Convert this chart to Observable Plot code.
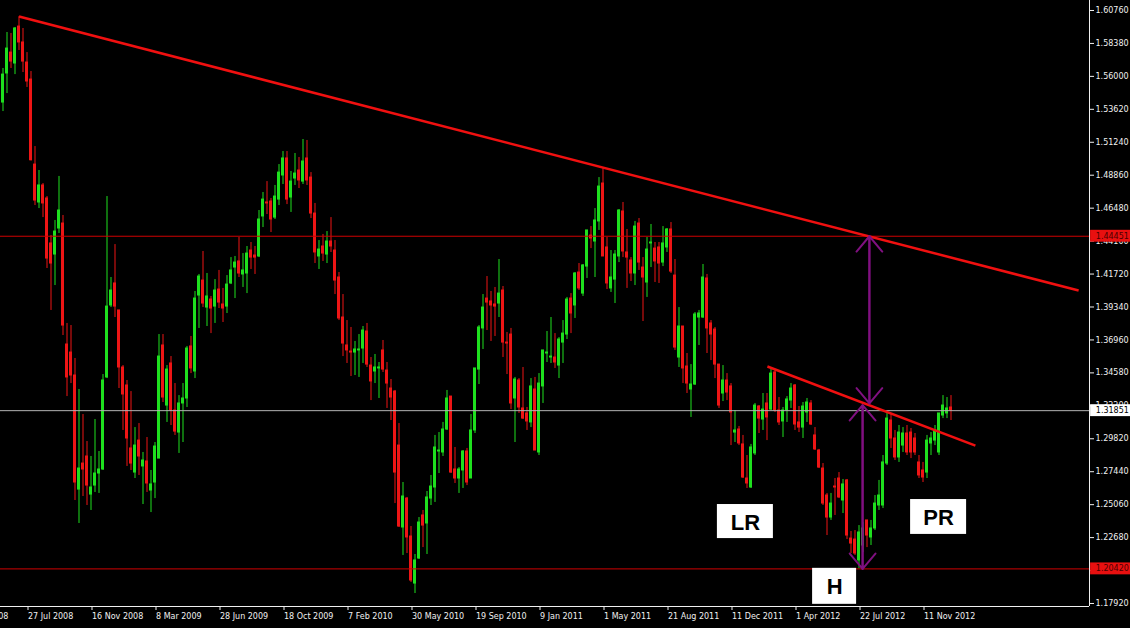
<!DOCTYPE html>
<html><head><meta charset="utf-8">
<script src="https://cdn.jsdelivr.net/npm/d3@7"></script>
<script src="https://cdn.jsdelivr.net/npm/@observablehq/plot@0.6"></script>
<style>html,body{margin:0;padding:0;background:#000;overflow:hidden}</style>
</head><body><div id="chart"></div>
<script>
// Weekly candles (bar index 0 .. 237)
const opens = [
1.5411,1.5621,1.5772,1.5693,1.5960,1.5845,1.5700,1.5577,1.4963,1.4689,
1.4812,1.4718,1.4393,1.4313,1.4501,1.4537,1.3663,1.3605,1.3439,1.2615,
1.2803,1.2854,1.2579,1.2644,1.2731,1.2760,1.3425,1.3945,1.4104,1.3909,
1.3497,1.3367,1.2912,1.2738,1.2969,1.2782,1.2818,1.2608,1.2666,1.2839,
1.3656,1.3222,1.3526,1.3186,1.3027,1.3237,1.3273,1.3649,1.3468,1.4017,
1.4125,1.3930,1.3988,1.3937,1.4060,1.3952,1.3937,1.4104,1.4219,1.4263,
1.4169,1.4176,1.4342,1.4306,1.4299,1.4588,1.4689,1.4696,1.4580,1.4710,
1.4884,1.5007,1.4725,1.4862,1.4920,1.4840,1.5007,1.4869,1.4609,1.4299,
1.4371,1.4313,1.4407,1.4342,1.4147,1.3858,1.3656,1.3612,1.3605,1.3620,
1.3634,1.3757,1.3511,1.3468,1.3490,1.3620,1.3475,1.3345,1.3323,1.2933,
1.2341,1.2550,1.2276,1.1936,1.2117,1.2428,1.2370,1.2550,1.2630,1.2890,
1.2883,1.3049,1.3287,1.2760,1.2695,1.2753,1.2890,1.2695,1.3042,1.3482,
1.3779,1.3995,1.3974,1.3952,1.3959,1.4053,1.3677,1.3735,1.3273,1.3403,
1.3201,1.3165,1.3100,1.3338,1.2883,1.3360,1.3598,1.3569,1.3569,1.3511,
1.3677,1.3735,1.3995,1.3945,1.4183,1.4031,1.4226,1.4450,1.4407,1.4552,
1.4826,1.4364,1.4068,1.4132,1.4299,1.4624,1.4328,1.4270,1.4176,1.4537,
1.4219,1.4111,1.4393,1.4356,1.4364,1.4255,1.4364,1.4494,1.4161,1.3569,
1.3793,1.3504,1.3338,1.3374,1.3858,1.3858,1.4140,1.3815,1.3771,1.3518,
1.3309,1.3403,1.3360,1.3027,1.3049,1.2941,1.2695,1.2630,1.2876,1.3215,
1.3121,1.3237,1.3193,1.3461,1.3186,1.3107,1.3186,1.3258,1.3367,1.3100,
1.3063,1.3172,1.3237,1.3006,1.2897,1.2767,1.2572,1.2413,1.2637,1.2695,
1.2536,1.2681,1.2261,1.2254,1.2103,1.2211,1.2392,1.2269,1.2334,1.2500,
1.2500,1.2803,1.3114,1.2984,1.2847,1.2933,1.3020,1.3027,1.2984,1.2811,
1.2753,1.2738,1.2948,1.2969,1.2883,1.3150,1.3165,1.3208];
const highs = [
1.5657,1.5917,1.5910,1.5953,1.6032,1.5946,1.5772,1.5635,1.5093,1.4920,
1.4826,1.4732,1.4450,1.4559,1.4877,1.4595,1.3815,1.3800,1.3562,1.3338,
1.3157,1.2962,1.2854,1.3121,1.2890,1.3446,1.4732,1.4147,1.4385,1.3909,
1.3511,1.3403,1.3323,1.3063,1.3092,1.2883,1.2991,1.2753,1.2955,1.3735,
1.3735,1.3511,1.3576,1.3381,1.3294,1.3381,1.3649,1.3721,1.4046,1.4169,
1.4335,1.4176,1.4010,1.4132,1.4198,1.4068,1.4161,1.4291,1.4299,1.4436,
1.4320,1.4371,1.4400,1.4371,1.4631,1.4761,1.4840,1.4718,1.4812,1.4963,
1.5057,1.5057,1.4913,1.5043,1.5014,1.5144,1.5137,1.4905,1.4682,1.4414,
1.4458,1.4479,1.4580,1.4414,1.4183,1.4024,1.3836,1.3786,1.3685,1.3735,
1.3793,1.3815,1.3569,1.3591,1.3533,1.3692,1.3533,1.3410,1.3331,1.3092,
1.2666,1.2558,1.2348,1.2146,1.2413,1.2464,1.2601,1.2717,1.3006,1.3027,
1.3100,1.3331,1.3287,1.2919,1.2774,1.2897,1.2912,1.3157,1.3490,1.3800,
1.4024,1.4154,1.4046,1.4075,1.4277,1.4082,1.3750,1.3779,1.3425,1.3417,
1.3497,1.3208,1.3417,1.3425,1.3453,1.3620,1.3757,1.3858,1.3742,1.3713,
1.3836,1.4003,1.4031,1.4183,1.4248,1.4241,1.4487,1.4515,1.4645,1.4869,
1.4934,1.4436,1.4342,1.4342,1.4638,1.4689,1.4494,1.4291,1.4552,1.4573,
1.4291,1.4436,1.4530,1.4400,1.4400,1.4515,1.4501,1.4544,1.4277,1.3930,
1.3793,1.3598,1.3518,1.3894,1.3909,1.4241,1.4169,1.3836,1.3786,1.3518,
1.3511,1.3453,1.3381,1.3186,1.3071,1.3006,1.2861,1.2941,1.3237,1.3222,
1.3309,1.3309,1.3490,1.3482,1.3280,1.3208,1.3287,1.3381,1.3374,1.3215,
1.3244,1.3273,1.3258,1.3063,1.2905,1.2803,1.2587,1.2587,1.2695,1.2738,
1.2688,1.2688,1.2312,1.2319,1.2355,1.2377,1.2392,1.2392,1.2572,1.2681,
1.2861,1.3172,1.3165,1.3042,1.3078,1.3063,1.3078,1.3056,1.3020,1.2861,
1.2811,1.3006,1.3027,1.3078,1.3165,1.3294,1.3280,1.3294];
const lows = [
1.5346,1.5476,1.5657,1.5613,1.5787,1.5628,1.5520,1.4989,1.4667,1.4645,
1.4580,1.4212,1.3909,1.4089,1.4465,1.3728,1.3287,1.3381,1.2536,1.2370,
1.2565,1.2500,1.2464,1.2594,1.2587,1.2753,1.3417,1.3930,1.3858,1.3345,
1.3042,1.2782,1.2753,1.2695,1.2717,1.2507,1.2594,1.2449,1.2550,1.2839,
1.3244,1.3100,1.3078,1.3006,1.2876,1.2955,1.3208,1.3453,1.3417,1.3779,
1.3930,1.3793,1.3742,1.3815,1.3923,1.3822,1.3887,1.4096,1.3995,1.4147,
1.4075,1.4031,1.4205,1.4169,1.4291,1.4508,1.4602,1.4472,1.4566,1.4667,
1.4819,1.4674,1.4617,1.4812,1.4790,1.4819,1.4812,1.4573,1.4248,1.4205,
1.4263,1.4248,1.4328,1.4024,1.3836,1.3576,1.3526,1.3432,1.3439,1.3425,
1.3526,1.3497,1.3258,1.3381,1.3273,1.3461,1.3201,1.3114,1.2514,1.2341,
1.2139,1.2153,1.1944,1.1864,1.2110,1.2196,1.2146,1.2500,1.2522,1.2731,
1.2854,1.3042,1.2731,1.2659,1.2587,1.2623,1.2644,1.2695,1.3020,1.3374,
1.3627,1.3764,1.3685,1.3721,1.3858,1.3569,1.3446,1.3193,1.2955,1.3165,
1.3121,1.3042,1.3063,1.2897,1.2861,1.3237,1.3533,1.3526,1.3490,1.3417,
1.3526,1.3699,1.3742,1.3851,1.4053,1.4010,1.4140,1.4356,1.4147,1.4487,
1.4299,1.4060,1.4039,1.3959,1.4255,1.4291,1.4068,1.4118,1.4089,1.4198,
1.3829,1.4003,1.4219,1.4111,1.4104,1.4226,1.4328,1.4176,1.3620,1.3497,
1.3381,1.3309,1.3136,1.3367,1.3656,1.3851,1.3598,1.3547,1.3417,1.3201,
1.3251,1.3258,1.2933,1.2955,1.2933,1.2695,1.2623,1.2623,1.2861,1.3020,
1.3042,1.2969,1.3186,1.3172,1.3078,1.2991,1.3100,1.3201,1.3042,1.3027,
1.2984,1.3100,1.3078,1.2897,1.2767,1.2500,1.2283,1.2392,1.2428,1.2550,
1.2442,1.2254,1.2153,1.2139,1.2042,1.2160,1.2196,1.2211,1.2319,1.2464,
1.2478,1.2789,1.2912,1.2825,1.2811,1.2883,1.2861,1.2839,1.2861,1.2695,
1.2666,1.2695,1.2861,1.2933,1.2861,1.3128,1.3128,1.3114];
const closes = [
1.5613,1.5801,1.5707,1.5946,1.5845,1.5707,1.5563,1.4994,1.4703,1.4812,
1.4682,1.4284,1.4248,1.4479,1.4631,1.3800,1.3425,1.3439,1.2666,1.2767,
1.2760,1.2644,1.2630,1.2731,1.2760,1.3403,1.3937,1.4053,1.3937,1.3497,
1.3302,1.2984,1.2803,1.2933,1.2854,1.2825,1.2659,1.2652,1.2926,1.3576,
1.3280,1.3482,1.3186,1.3034,1.3237,1.3273,1.3634,1.3490,1.3995,1.4154,
1.3959,1.4010,1.3923,1.4053,1.3966,1.3923,1.4096,1.4198,1.4255,1.4176,
1.4198,1.4320,1.4291,1.4291,1.4566,1.4710,1.4682,1.4566,1.4732,1.4905,
1.5007,1.4710,1.4840,1.4898,1.4848,1.4985,1.4848,1.4609,1.4328,1.4349,
1.4320,1.4407,1.4371,1.4125,1.3851,1.3670,1.3620,1.3605,1.3627,1.3627,
1.3764,1.3518,1.3396,1.3497,1.3497,1.3482,1.3381,1.3280,1.2738,1.2348,
1.2565,1.2269,1.1958,1.2103,1.2377,1.2355,1.2558,1.2637,1.2919,1.2897,
1.3049,1.3273,1.2738,1.2695,1.2760,1.2890,1.2666,1.3042,1.3490,1.3786,
1.3930,1.3966,1.3945,1.3937,1.4031,1.3677,1.3670,1.3237,1.3410,1.3208,
1.3128,1.3107,1.3360,1.2897,1.3381,1.3620,1.3605,1.3576,1.3533,1.3699,
1.3742,1.3988,1.3887,1.4176,1.4068,1.4234,1.4487,1.4429,1.4559,1.4804,
1.4299,1.4104,1.4147,1.4313,1.4631,1.4335,1.4291,1.4176,1.4515,1.4255,
1.4147,1.4349,1.4400,1.4263,1.4248,1.4393,1.4494,1.4190,1.3641,1.3793,
1.3490,1.3381,1.3374,1.3880,1.3887,1.4147,1.3779,1.3735,1.3518,1.3222,
1.3403,1.3316,1.3172,1.3042,1.2948,1.2702,1.2659,1.2919,1.3222,1.3128,
1.3193,1.3136,1.3453,1.3186,1.3100,1.3186,1.3266,1.3345,1.3085,1.3063,
1.3215,1.3244,1.3085,1.2905,1.2774,1.2514,1.2413,1.2514,1.2630,1.2558,
1.2652,1.2283,1.2225,1.2153,1.2305,1.2334,1.2283,1.2334,1.2514,1.2572,
1.2811,1.3128,1.2984,1.2847,1.3027,1.3020,1.2883,1.2883,1.2883,1.2717,
1.2702,1.2969,1.2984,1.3042,1.3165,1.3222,1.3201,1.3185];

// Axis tick labels
const yTickValues = [1.60760,1.58380,1.56000,1.53620,1.51240,1.48860,1.46480,1.44100,1.41720,1.39340,
  1.36960,1.34580,1.32200,1.29820,1.27440,1.25060,1.22680,1.20300,1.17920];
const xTickLabels = ["6 Apr 2008","27 Jul 2008","16 Nov 2008","8 Mar 2009","28 Jun 2009","18 Oct 2009",
  "7 Feb 2010","30 May 2010","19 Sep 2010","9 Jan 2011","1 May 2011","21 Aug 2011","11 Dec 2011",
  "1 Apr 2012","22 Jul 2012","11 Nov 2012"];
const xTickBars = [-10.25,5.75,21.75,37.75,53.75,69.75,85.75,101.75,117.75,133.75,149.75,165.75,181.75,197.75,213.75,229.75];

// Horizontal price levels
const levels = [
  {price: 1.44451, kind: "level"},
  {price: 1.31851, kind: "bid"},
  {price: 1.20420, kind: "level"}
];
// Trend lines (bar index, price)
const trendlines = [
  {bar1: 4, price1: 1.6032, bar2: 268.9, price2: 1.4053},
  {bar1: 191.1, price1: 1.3504, bar2: 243.1, price2: 1.2933}
];
// Measured-move arrows
const arrows = [
  {bar: 216.6, from: 1.44451, to: 1.3237},
  {bar: 214.9, from: 1.3225, to: 1.2042}
];
// Pattern labels
const annotations = [
  {text: "LR", bar: 185.6, price: 1.2384},
  {text: "H", bar: 207.9, price: 1.1916},
  {text: "PR", bar: 233.9, price: 1.2417}
];

const GREEN = "#1ee01e", RED = "#ee1515";
const bars = opens.map((o, i) => ({i, open: o, high: highs[i], low: lows[i], close: closes[i]}));
const col = d => d.close >= d.open ? GREEN : RED;
const boxW = {LR: 7, H: 5.5, PR: 7};
const boxH = {LR: 0.0123, H: 0.013, PR: 0.0126};
const labelMap = new Map(xTickBars.map((b, k) => [b, xTickLabels[k]]));

const chart = Plot.plot({
  width: 1130, height: 628,
  marginLeft: 0, marginRight: 41, marginTop: 0, marginBottom: 22,
  style: {background: "#000", color: "#f0f0f0", fontFamily: "DejaVu Sans", fontSize: "8px"},
  x: {domain: [-0.625, 271.625], axis: null},
  y: {domain: [1.17703, 1.61482], axis: null},
  color: {type: "identity"},
  marks: [
    Plot.ruleX(bars, {x: "i", y1: "low", y2: "high", stroke: col, strokeWidth: 1}),
    Plot.rect(bars, {x1: d => d.i - 0.375, x2: d => d.i + 0.375, y1: "open", y2: "close",
      fill: col, insetTop: -0.5, insetBottom: -0.5}),
    Plot.ruleY(levels, {y: "price", stroke: d => d.kind === "bid" ? "#b4b4b4" : "#d00000", strokeWidth: 1}),
    Plot.link(trendlines, {x1: "bar1", y1: "price1", x2: "bar2", y2: "price2", stroke: "#f01010", strokeWidth: 2.5}),
    Plot.arrow(arrows, {x: "bar", y1: "from", y2: "to", stroke: "#801080", strokeWidth: 2, headLength: 15, headAngle: 80}),
    Plot.arrow(arrows, {x: "bar", y1: "to", y2: "from", stroke: "#801080", strokeWidth: 2, headLength: 15, headAngle: 80}),
    Plot.rect(annotations, {x1: d => d.bar - boxW[d.text], x2: d => d.bar + boxW[d.text],
      y1: d => d.price - boxH[d.text], y2: d => d.price + boxH[d.text], fill: "#fff"}),
    Plot.text(annotations, {x: "bar", y: "price", text: "text", fill: "#000", fontSize: 22,
      fontWeight: "bold", fontFamily: "Liberation Sans", dy: 1}),
    Plot.ruleX([271.625], {stroke: "#f0f0f0"}),
    Plot.ruleY([1.17703], {stroke: "#f0f0f0"}),
    Plot.axisY(yTickValues, {anchor: "right", tickSize: 4, tickPadding: 2, textAnchor: "start",
      tickFormat: d => d.toFixed(5), label: null}),
    Plot.axisX(xTickBars, {anchor: "bottom", tickSize: 4, tickPadding: 3, textAnchor: "start", dx: 2,
      tickFormat: d => labelMap.get(d), label: null}),
    Plot.rect(levels, {x1: 271.9, x2: 282, y1: d => d.price - 0.0043, y2: d => d.price + 0.0043,
      fill: d => d.kind === "bid" ? "#ffffff" : "#e81010"}),
    Plot.text(levels, {x: 273.2, y: "price", text: d => d.price.toFixed(5), textAnchor: "start",
      fill: d => d.kind === "bid" ? "#000" : "#4a0000", fontSize: 8})
  ]
});
document.getElementById("chart").appendChild(chart);
</script></body></html>
